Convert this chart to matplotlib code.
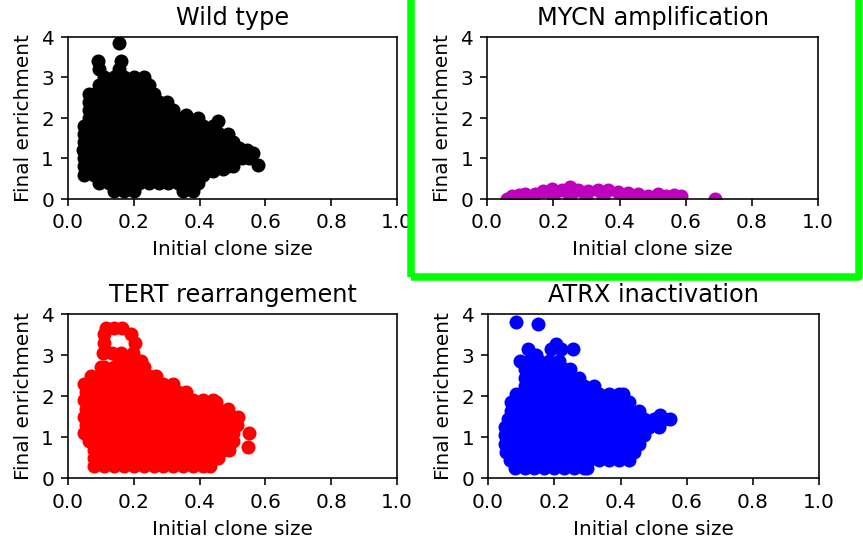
import matplotlib
matplotlib.use("Agg")
import matplotlib.pyplot as plt
from matplotlib.patches import Rectangle

# clone data, one list of x values per enrichment level
wt_levels = [0.2, 0.4, 0.6, 0.8, 1.0, 1.2, 1.4, 1.6, 1.8, 2.0, 2.2, 2.4, 2.6, 2.8, 3.0, 3.2, 3.4]
wt_sizes = [
    [0.14, 0.17, 0.20, 0.35, 0.38],
    [0.095, 0.125, 0.155, 0.185, 0.215, 0.245, 0.275, 0.305, 0.335, 0.365, 0.395],
    [0.05, 0.08, 0.11, 0.14, 0.17, 0.20, 0.23, 0.26, 0.29, 0.32, 0.35, 0.38, 0.41],
    [0.05, 0.065, 0.095, 0.125, 0.155, 0.185, 0.215, 0.245, 0.275, 0.305, 0.335, 0.365, 0.395,
     0.425, 0.455, 0.485, 0.50],
    [0.05, 0.08, 0.11, 0.14, 0.17, 0.20, 0.23, 0.26, 0.29, 0.32, 0.35, 0.38, 0.41, 0.44, 0.47,
     0.50, 0.53, 0.55],
    [0.045, 0.065, 0.095, 0.125, 0.155, 0.185, 0.215, 0.245, 0.275, 0.305, 0.335, 0.365, 0.395,
     0.425, 0.455, 0.485, 0.515, 0.545],
    [0.05, 0.08, 0.11, 0.14, 0.17, 0.20, 0.23, 0.26, 0.29, 0.32, 0.35, 0.38, 0.41, 0.44, 0.47, 0.50],
    [0.05, 0.065, 0.095, 0.125, 0.155, 0.185, 0.215, 0.245, 0.275, 0.305, 0.335, 0.365, 0.395,
     0.425, 0.455, 0.485],
    [0.05, 0.08, 0.11, 0.14, 0.17, 0.20, 0.23, 0.26, 0.29, 0.32, 0.35, 0.38, 0.41, 0.44],
    [0.065, 0.095, 0.125, 0.155, 0.185, 0.215, 0.245, 0.275, 0.305, 0.335, 0.365, 0.395],
    [0.065, 0.08, 0.11, 0.14, 0.17, 0.20, 0.23, 0.26, 0.29, 0.32],
    [0.065, 0.095, 0.125, 0.155, 0.185, 0.215, 0.245, 0.275, 0.30],
    [0.065, 0.08, 0.11, 0.14, 0.17, 0.20, 0.23, 0.26],
    [0.095, 0.125, 0.155, 0.185, 0.215, 0.245],
    [0.11, 0.14, 0.17, 0.20, 0.23],
    [0.095, 0.155],
    [0.092, 0.16],
]
wt_extra_x = [0.156, 0.576, 0.561, 0.521, 0.455, 0.455, 0.36, 0.44, 0.47]
wt_extra_y = [3.85, 0.84, 1.14, 1.26, 1.92, 1.63, 2.08, 0.70, 0.74]

mycn_x = [0.06, 0.075, 0.095, 0.115, 0.145, 0.17, 0.195, 0.225, 0.25, 0.275, 0.305, 0.335,
          0.365, 0.395, 0.425, 0.455, 0.485, 0.515, 0.54, 0.565, 0.585, 0.689,
          0.20, 0.25, 0.30, 0.35, 0.42]
mycn_y = [0.0, 0.06, 0.09, 0.12, 0.11, 0.20, 0.24, 0.22, 0.29, 0.21, 0.19, 0.21,
          0.21, 0.16, 0.14, 0.13, 0.08, 0.11, 0.07, 0.09, 0.07, 0.0,
          0.05, 0.05, 0.03, 0.03, 0.02]

tert_levels = [0.3, 0.5, 0.7, 0.9, 1.1, 1.3, 1.5, 1.7, 1.9, 2.1, 2.3, 2.5, 2.7, 2.85, 3.05, 3.3,
               3.5, 3.65]
tert_sizes = [
    [0.08, 0.11, 0.14, 0.17, 0.20, 0.23, 0.26, 0.29, 0.32, 0.35, 0.38, 0.41, 0.43],
    [0.08, 0.095, 0.125, 0.155, 0.185, 0.215, 0.245, 0.275, 0.305, 0.335, 0.365, 0.395, 0.425,
     0.455],
    [0.08, 0.11, 0.14, 0.17, 0.20, 0.23, 0.26, 0.29, 0.32, 0.35, 0.38, 0.41, 0.44, 0.47, 0.49],
    [0.065, 0.095, 0.125, 0.155, 0.185, 0.215, 0.245, 0.275, 0.305, 0.335, 0.365, 0.395, 0.425,
     0.455, 0.485, 0.50],
    [0.05, 0.08, 0.11, 0.14, 0.17, 0.20, 0.23, 0.26, 0.29, 0.32, 0.35, 0.38, 0.41, 0.44, 0.47, 0.50],
    [0.055, 0.065, 0.095, 0.125, 0.155, 0.185, 0.215, 0.245, 0.275, 0.305, 0.335, 0.365, 0.395,
     0.425, 0.455, 0.485, 0.515],
    [0.05, 0.08, 0.11, 0.14, 0.17, 0.20, 0.23, 0.26, 0.29, 0.32, 0.35, 0.38, 0.41, 0.44, 0.47,
     0.50, 0.516],
    [0.055, 0.065, 0.095, 0.125, 0.155, 0.185, 0.215, 0.245, 0.275, 0.305, 0.335, 0.365, 0.395,
     0.425, 0.455, 0.485],
    [0.05, 0.08, 0.11, 0.14, 0.17, 0.20, 0.23, 0.26, 0.29, 0.32, 0.35, 0.38, 0.41, 0.44],
    [0.055, 0.065, 0.095, 0.125, 0.155, 0.185, 0.215, 0.245, 0.275, 0.305, 0.335, 0.36],
    [0.05, 0.08, 0.11, 0.14, 0.17, 0.20, 0.23, 0.26, 0.29, 0.318],
    [0.07, 0.095, 0.125, 0.155, 0.185, 0.215, 0.245, 0.267],
    [0.10, 0.11, 0.14, 0.17, 0.20, 0.23],
    [0.155, 0.185, 0.20, 0.222],
    [0.105, 0.135, 0.16, 0.197],
    [0.11, 0.205],
    [0.11, 0.19],
    [0.116, 0.14, 0.165],
]
tert_extra_x = [0.551, 0.546, 0.45]
tert_extra_y = [1.1, 0.76, 1.86]

atrx_levels = [0.25, 0.45, 0.65, 0.85, 1.05, 1.25, 1.45, 1.65, 1.85, 2.05, 2.25, 2.45, 2.65, 2.85,
               3.0, 3.15, 3.28]
atrx_sizes = [
    [0.08, 0.11, 0.14, 0.17, 0.20, 0.23, 0.26, 0.29, 0.30],
    [0.065, 0.095, 0.125, 0.155, 0.185, 0.215, 0.245, 0.275, 0.305, 0.335, 0.365, 0.395, 0.425],
    [0.055, 0.08, 0.11, 0.14, 0.17, 0.20, 0.23, 0.26, 0.29, 0.32, 0.35, 0.38, 0.41, 0.44],
    [0.05, 0.065, 0.095, 0.125, 0.155, 0.185, 0.215, 0.245, 0.275, 0.305, 0.335, 0.365, 0.395,
     0.425, 0.455],
    [0.05, 0.08, 0.11, 0.14, 0.17, 0.20, 0.23, 0.26, 0.29, 0.32, 0.35, 0.38, 0.41, 0.44, 0.47],
    [0.05, 0.065, 0.095, 0.125, 0.155, 0.185, 0.215, 0.245, 0.275, 0.305, 0.335, 0.365, 0.395,
     0.425, 0.455, 0.485, 0.515],
    [0.06, 0.08, 0.11, 0.14, 0.17, 0.20, 0.23, 0.26, 0.29, 0.32, 0.35, 0.38, 0.41, 0.44, 0.47,
     0.50, 0.53, 0.548],
    [0.07, 0.095, 0.125, 0.155, 0.185, 0.215, 0.245, 0.275, 0.305, 0.335, 0.365, 0.395, 0.425,
     0.455],
    [0.07, 0.08, 0.11, 0.14, 0.17, 0.20, 0.23, 0.26, 0.29, 0.32, 0.35, 0.38, 0.41, 0.427],
    [0.085, 0.095, 0.125, 0.155, 0.185, 0.215, 0.245, 0.275, 0.305, 0.335, 0.365, 0.395, 0.407],
    [0.11, 0.14, 0.17, 0.20, 0.23, 0.26, 0.29, 0.32],
    [0.11, 0.125, 0.155, 0.185, 0.215, 0.245, 0.275],
    [0.11, 0.14, 0.17, 0.20, 0.23, 0.246],
    [0.095, 0.125, 0.155, 0.185, 0.215],
    [0.145],
    [0.12, 0.19, 0.22, 0.256],
    [0.205],
]
atrx_extra_x = [0.085, 0.15, 0.518]
atrx_extra_y = [3.81, 3.76, 1.54]


def unpack(levels, sizes, extra_x, extra_y):
    xs, ys = [], []
    for level, row in zip(levels, sizes):
        xs += row
        ys += [level] * len(row)
    return xs + extra_x, ys + extra_y


fig = plt.figure(figsize=(863.2 / 144, 541.2 / 144), dpi=144)

panels = [
    ("Wild type", unpack(wt_levels, wt_sizes, wt_extra_x, wt_extra_y), "k",
     [68 / 863, 1 - 199 / 541, 329 / 863, 162 / 541]),
    ("MYCN amplification", (mycn_x, mycn_y), "m",
     [487 / 863, 1 - 199 / 541, 331 / 863, 162 / 541]),
    ("TERT rearrangement", unpack(tert_levels, tert_sizes, tert_extra_x, tert_extra_y), "r",
     [68 / 863, 1 - 478.5 / 541, 329 / 863, 164.5 / 541]),
    ("ATRX inactivation", unpack(atrx_levels, atrx_sizes, atrx_extra_x, atrx_extra_y), "b",
     [488 / 863, 1 - 478.5 / 541, 331 / 863, 164.5 / 541]),
]

for title, (x, y), colour, pos in panels:
    ax = fig.add_axes(pos)
    ax.scatter(x, y, c=colour)
    ax.set_xlim(0, 1)
    ax.set_ylim(0, 4)
    ax.set_xticks([0.0, 0.2, 0.4, 0.6, 0.8, 1.0])
    ax.set_yticks([0, 1, 2, 3, 4])
    ax.set_title(title)
    ax.set_xlabel("Initial clone size")
    ax.set_ylabel("Final enrichment")

# green highlight box around the MYCN panel
box = Rectangle((410.5 / 863, 1 - 277 / 541), (859 - 410.5) / 863, 0.6,
                transform=fig.transFigure, fill=False, edgecolor="#00ff00",
                linewidth=3.75, joinstyle="round", clip_on=False, zorder=10)
fig.add_artist(box)

fig.savefig("out.png", dpi=144)
